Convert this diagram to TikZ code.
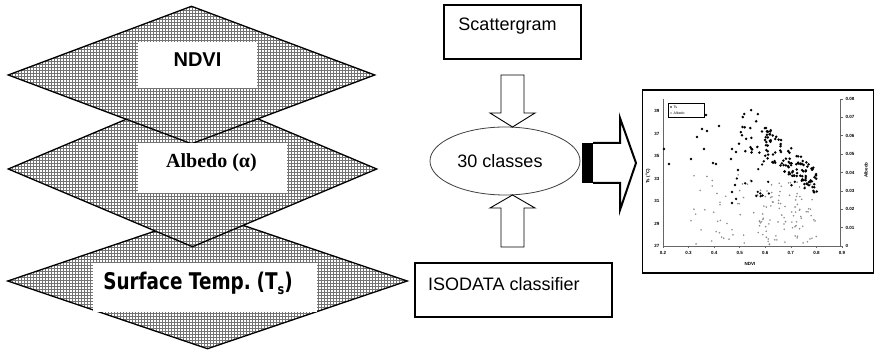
\documentclass[tikz,border=0pt]{standalone}
\usepackage{fontspec}
\setmainfont{Liberation Sans}
\newfontfamily\serifb{Liberation Serif}
\newfontfamily\verd[FakeStretch=0.8]{DejaVu Sans}
\usetikzlibrary{shapes.geometric,patterns}
\begin{document}
\begin{tikzpicture}[x=1pt,y=-1pt,
  layer/.style={diamond, draw=black, line width=1.3pt, inner sep=0pt, preaction={fill=white}, pattern=grid, pattern color=black!55},
  labelbox/.style={fill=white, inner sep=0pt},
  boxed/.style={draw, line width=1.8pt, inner sep=0pt},
  barrow/.style={draw, line width=0.9pt, fill=white, line join=miter},
  tsdot/.style={fill=black},
  aldot/.style={fill=black!45},
  ticklab/.style={font=\fontsize{4.5}{5}\selectfont\bfseries, inner sep=0.5pt},
  plain/.style={inner sep=0pt, font=\fontsize{18}{20}\selectfont},
]
\useasboundingbox (0,0) rectangle (874,352);

% stacked layers
\node[layer, minimum width=400, minimum height=136] (ts) at (207.5,281) {};
\node[layer, minimum width=369, minimum height=156] (al) at (192.5,169) {};
\node[layer, minimum width=367, minimum height=138] (nd) at (191.5,75) {};

\node[labelbox, minimum width=119, minimum height=46] (ndb) at (197.5,65) {};
\node[inner sep=0pt, font=\fontsize{20}{24}\selectfont\bfseries] (ndt) at (197.5,60) {NDVI};

\node[labelbox, minimum width=149, minimum height=50] (alb) at (212.5,168) {};
\node[inner sep=0pt, font=\fontsize{20}{24}\selectfont\serifb\bfseries] (alt) at (211.5,163) {Albedo (α)};

\node[labelbox, minimum width=224, minimum height=49] (tsb) at (205,287.5) {};
\node[inner sep=0pt, font=\fontsize{23}{26}\selectfont\verd\bfseries] (tst) at (198,283) {Surface Temp.\hspace{-0.12em} (T\raisebox{-0.22em}{\fontsize{14}{14}\selectfont s})};

% middle column
\node[boxed, minimum width=137, minimum height=54] (scat) at (512.5,32) {};
\node[plain] (scatt) at (507.5,26) {Scattergram};

\node[ellipse, draw=black!75, line width=0.8pt, minimum width=150, minimum height=68, inner sep=0pt] (cls) at (505,161) {};
\node[plain] (clst) at (500,161.5) {30 classes};

\node[boxed, minimum width=197, minimum height=54, anchor=north west] (iso) at (414,262) {};
\node[plain, anchor=west] (isot) at (428,284) {ISODATA classifier};

% block arrows
\draw[barrow] (501,75) -- (524,75) -- (524,113) -- (535,113) -- (512.5,127) -- (490,113) -- (501,113) -- cycle;
\draw[barrow] (512.5,195) -- (535,208) -- (524,208) -- (524,247) -- (501,247) -- (501,208) -- (490,208) -- cycle;

\fill (582,143) rectangle (593,183);
\draw[line width=2pt, line join=miter] (593,143) -- (620,143) -- (620,118) -- (636,163) -- (620,210) -- (620,183) -- (593,183);

% scatter plot
\node[boxed, line width=1.8pt, minimum width=231, minimum height=183, anchor=north west] (plot) at (641.5,89.5) {};
\draw[black!60, line width=0.6pt] (663,99) -- (663,246) -- (840,246) -- (840,99);
\foreach \k in {0,...,8} \draw[black!60, line width=0.5pt] (840,{246-\k*18.375}) -- (843,{246-\k*18.375});
\foreach \k in {0,...,7} \draw[black!60, line width=0.5pt] ({663+\k*25.57},246) -- ({663+\k*25.57},248.5);
\foreach \v [count=\k from 0] in {27,29,31,33,35,37,39}
  \node[ticklab, anchor=east] at (660,{246-\k*22.5}) {\v};
\foreach \v [count=\k from 0] in {0,0.01,0.02,0.03,0.04,0.05,0.06,0.07,0.08}
  \node[ticklab, anchor=west] at (845,{246-\k*18.375}) {\v};
\foreach \v [count=\k from 0] in {0.2,0.3,0.4,0.5,0.6,0.7,0.8,0.9}
  \node[ticklab, anchor=north] at ({663+\k*25.57},251) {\v};
\node[ticklab, rotate=90] (ylab) at (648,176) {Ts (\textsuperscript{o}C)};
\node[ticklab, rotate=90] (y2lab) at (866,170) {Albedo};
\node[ticklab] (xlab) at (750,264) {NDVI};

\node[draw, line width=0.5pt, minimum width=36, minimum height=14, anchor=north west, inner sep=0pt] (leg) at (668,103) {};
\fill[tsdot] (671,107) circle (0.8);
\fill[aldot] (671,113) circle (0.8);
\node[inner sep=0pt, anchor=west, font=\fontsize{3.5}{4}\selectfont] at (673.5,107) {Ts};
\node[inner sep=0pt, anchor=west, font=\fontsize{3.5}{4}\selectfont] at (673.5,113) {Albedo};

\pgfmathsetseed{5}
% albedo (grey)
\foreach \i in {1,...,40}{
  \pgfmathsetmacro{\px}{690+70*rnd}
  \pgfmathsetmacro{\py}{172+72*rnd}
  \fill[aldot] (\px,\py) circle (0.9);
}
\foreach \i in {1,...,95}{
  \pgfmathsetmacro{\px}{755+62*rnd}
  \pgfmathsetmacro{\py}{182+63*rnd}
  \fill[aldot] (\px,\py) circle (0.9);
}
% Ts (black)
\foreach \p in {(664,149),(669,164),(691,159),(697,137),(702,129),(704,149),(707,131),(706,115),(713,163),(716,164),(719,126),(731,159),(732,149),(736,152),(732,192),(732,203),(738,170),(735,185)}
  \fill[tsdot] \p circle (1.4);
\foreach \i in {1,...,26}{
  \pgfmathsetmacro{\px}{738+34*rnd}
  \pgfmathsetmacro{\py}{108+45*rnd}
  \fill[tsdot] (\px,\py) circle (1.4);
}
\foreach \i in {1,...,110}{
  \pgfmathsetmacro{\px}{765+52*rnd}
  \pgfmathsetmacro{\py}{142+(\px-765)*0.8+15*rand}
  \fill[tsdot] (\px,\py) circle (1.4);
}
\foreach \i in {1,...,18}{
  \pgfmathsetmacro{\px}{735+65*rnd}
  \pgfmathsetmacro{\py}{160+45*rnd}
  \fill[tsdot] (\px,\py) circle (1.3);
}
\end{tikzpicture}
\end{document}
